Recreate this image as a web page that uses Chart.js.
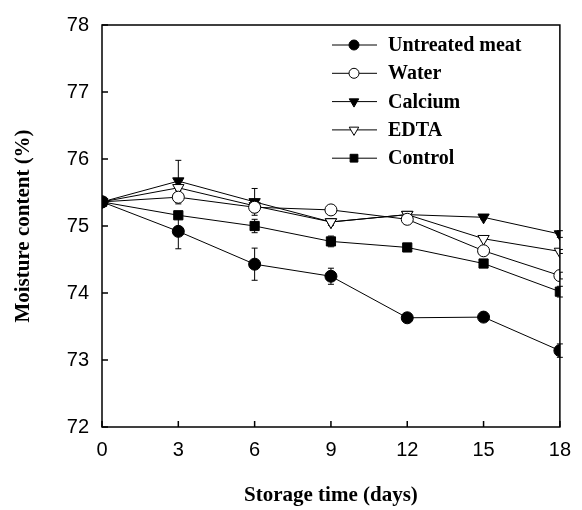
<!DOCTYPE html>
<html lang="en">
  <head>
    <meta charset="UTF-8" />
    <script src="https://cdn.jsdelivr.net/npm/chart.js@4.4.1/dist/chart.umd.min.js"></script>
    <title>moisture content</title>
    <style>
      body {
        margin: 0;
        padding: 0;
        background: white;
      }

      .container {
        width: 582px;
        height: 510px;
      }
    </style>
  </head>
  <body>
    <div class="container">
      <canvas id="moisture"></canvas>
    </div>
    <script>
      const days = [0, 3, 6, 9, 12, 15, 18]
      const yTicks = [72, 73, 74, 75, 76, 77, 78]

      const untreated = [75.36, 74.92, 74.43, 74.25, 73.63, 73.64, 73.14]
      const water = [75.36, 75.43, 75.28, 75.24, 75.1, 74.63, 74.26]
      const calcium = [75.36, 75.67, 75.36, 75.06, 75.17, 75.13, 74.88]
      const edta = [75.36, 75.57, 75.3, 75.06, 75.17, 74.81, 74.62]
      const control = [75.36, 75.16, 75.0, 74.77, 74.68, 74.44, 74.02]

      // standard errors
      const untreatedErr = [0, 0.26, 0.24, 0.12, 0.03, 0.03, 0.1]
      const waterErr = [0, 0.1, 0.05, 0.03, 0.03, 0.05, 0.05]
      const calciumErr = [0, 0.31, 0.2, 0.03, 0.03, 0.03, 0.05]
      const edtaErr = [0, 0.12, 0.1, 0.05, 0.03, 0.03, 0.03]
      const controlErr = [0, 0.05, 0.1, 0.08, 0.03, 0.05, 0.08]

      const serif = "'Liberation Serif', 'Times New Roman', serif"
      const sans = "'Liberation Sans', Arial, sans-serif"

      const series = [
        { label: 'Untreated meat', data: untreated, err: untreatedErr, style: 'circle', fill: '#000', rot: 0, r: 6, order: 0 },
        { label: 'Water', data: water, err: waterErr, style: 'circle', fill: '#fff', rot: 0, r: 6, order: 1 },
        { label: 'Calcium', data: calcium, err: calciumErr, style: 'triangle', fill: '#000', rot: 180, r: 6.5, order: 3 },
        { label: 'EDTA', data: edta, err: edtaErr, style: 'triangle', fill: '#fff', rot: 180, r: 6.5, order: 2 },
        { label: 'Control', data: control, err: controlErr, style: 'rect', fill: '#000', rot: 0, r: 6.5, order: 4 },
      ]

      const datasets = series.map((s) => ({
        label: s.label,
        data: s.data.map((v, i) => ({ x: days[i], y: v })),
        err: s.err,
        borderColor: '#000',
        borderWidth: 1,
        pointStyle: s.style,
        pointRotation: s.rot,
        pointRadius: s.r,
        pointBackgroundColor: s.fill,
        pointBorderColor: '#000',
        pointBorderWidth: 1,
        order: s.order,
      }))

      const errorBars = {
        id: 'errorBars',
        beforeDatasetsDraw(chart) {
          const { ctx, scales } = chart
          ctx.save()
          ctx.strokeStyle = '#000'
          ctx.lineWidth = 1
          chart.data.datasets.forEach((ds) => {
            ds.data.forEach((p, i) => {
              const e = ds.err[i]
              if (!e) return
              const x = scales.x.getPixelForValue(p.x)
              const y1 = scales.y.getPixelForValue(p.y - e)
              const y2 = scales.y.getPixelForValue(p.y + e)
              ctx.beginPath()
              ctx.moveTo(x, y1)
              ctx.lineTo(x, y2)
              ctx.moveTo(x - 3, y1)
              ctx.lineTo(x + 3, y1)
              ctx.moveTo(x - 3, y2)
              ctx.lineTo(x + 3, y2)
              ctx.stroke()
            })
          })
          ctx.restore()
        },
      }

      const frame = {
        id: 'frame',
        afterDraw(chart) {
          const { ctx, chartArea: a, scales } = chart
          ctx.save()
          ctx.strokeStyle = '#000'
          ctx.lineWidth = 1.5
          ctx.strokeRect(a.left, a.top, a.right - a.left, a.bottom - a.top)
          ctx.beginPath()
          days.forEach((d) => {
            const x = scales.x.getPixelForValue(d)
            ctx.moveTo(x, a.bottom)
            ctx.lineTo(x, a.bottom - 6)
          })
          yTicks.forEach((t) => {
            const y = scales.y.getPixelForValue(t)
            ctx.moveTo(a.left, y)
            ctx.lineTo(a.left + 6, y)
          })
          ctx.stroke()

          // legend inside the plot, line sample with the marker in the middle
          ctx.font = 'bold 20px ' + serif
          ctx.textBaseline = 'middle'
          series.forEach((s, i) => {
            const y = 45 + i * 28.3
            ctx.lineWidth = 1
            ctx.strokeStyle = '#000'
            ctx.beginPath()
            ctx.moveTo(332, y)
            ctx.lineTo(377, y)
            ctx.stroke()
            ctx.fillStyle = s.fill
            Chart.helpers.drawPoint(ctx, { pointStyle: s.style, rotation: s.rot, radius: s.r - 1, borderWidth: 1 }, 354, y)
            ctx.fillStyle = '#000'
            ctx.fillText(s.label, 388, y + 1)
          })
          ctx.restore()
        },
      }

      new Chart(document.getElementById('moisture'), {
        type: 'line',
        data: { datasets },
        options: {
          responsive: true,
          maintainAspectRatio: false,
          animation: false,
          layout: { padding: { top: 14, right: 22, left: 0, bottom: 0 } },
          plugins: {
            legend: { display: false },
            tooltip: { enabled: false },
          },
          scales: {
            x: {
              type: 'linear',
              min: 0,
              max: 18,
              afterBuildTicks: (scale) => {
                scale.ticks = days.map((d) => ({ value: d }))
              },
              afterFit: (scale) => {
                scale.height = 83
              },
              grid: { display: false, drawTicks: false },
              border: { display: false },
              ticks: {
                color: '#000',
                padding: 11,
                maxRotation: 0,
                font: { family: sans, size: 20 },
              },
              title: {
                display: true,
                text: 'Storage time (days)',
                color: '#000',
                font: { family: serif, size: 21, weight: 'bold' },
                padding: { top: 16, bottom: 2 },
              },
            },
            y: {
              min: 72,
              max: 78,
              afterBuildTicks: (scale) => {
                scale.ticks = yTicks.map((t) => ({ value: t }))
              },
              afterFit: (scale) => {
                scale.width = 102
              },
              grid: { display: false, drawTicks: false },
              border: { display: false },
              ticks: {
                color: '#000',
                padding: 13,
                font: { family: sans, size: 20 },
              },
              title: {
                display: true,
                text: 'Moisture content (%)',
                color: '#000',
                font: { family: serif, size: 21, weight: 'bold' },
                padding: { top: 11, bottom: 10 },
              },
            },
          },
        },
        plugins: [errorBars, frame],
      })
    </script>
  </body>
</html>
